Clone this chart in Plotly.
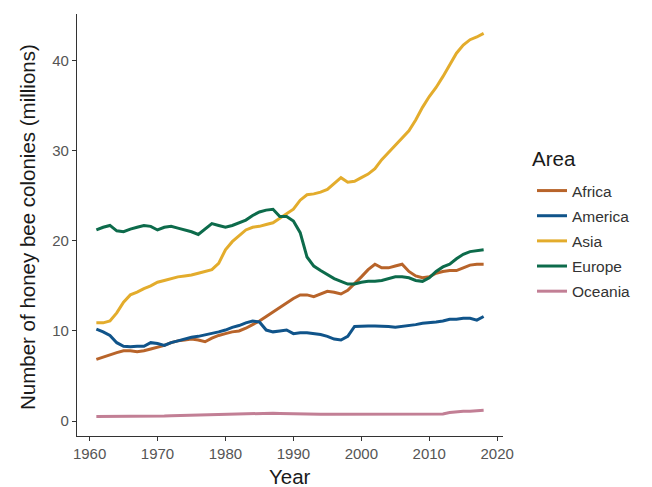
import plotly.graph_objects as go

years = list(range(1961, 2019))

africa = [6.85, 7.1, 7.4, 7.6, 7.8, 7.8, 7.7, 7.8, 8.0, 8.2,
          8.4, 8.7, 8.9, 9.0, 9.1, 9.0, 8.8, 9.2, 9.5, 9.7,
          9.9, 10.0, 10.3, 10.7, 11.1, 11.6, 12.1, 12.6, 13.1, 13.6,
          14.0, 14.0, 13.8, 14.1, 14.4, 14.3, 14.1, 14.5, 15.2, 16.0,
          16.8, 17.4, 17.0, 17.0, 17.2, 17.4, 16.6, 16.1, 15.9, 16.0,
          16.4, 16.6, 16.7, 16.7, 17.0, 17.3, 17.4, 17.4]

america = [10.2, 9.9, 9.5, 8.7, 8.3, 8.25, 8.3, 8.3, 8.7, 8.6,
           8.4, 8.7, 8.9, 9.1, 9.3, 9.4, 9.55, 9.7, 9.9, 10.1,
           10.4, 10.6, 10.9, 11.1, 11.0, 10.1, 9.9, 10.0, 10.1, 9.7,
           9.8, 9.8, 9.7, 9.6, 9.4, 9.1, 9.0, 9.4, 10.5, 10.55,
           10.55, 10.55, 10.55, 10.5, 10.4, 10.5, 10.55, 10.7, 10.85, 10.9,
           11.0, 11.1, 11.3, 11.3, 11.4, 11.4, 11.2, 11.6]

asia = [10.9, 10.9, 11.1, 12.0, 13.2, 14.0, 14.3, 14.7, 15.0, 15.4,
        15.6, 15.8, 16.0, 16.1, 16.2, 16.4, 16.6, 16.8, 17.5, 19.0,
        19.9, 20.6, 21.2, 21.5, 21.6, 21.8, 22.0, 22.5, 23.0, 23.5,
        24.5, 25.1, 25.2, 25.4, 25.7, 26.4, 27.0, 26.5, 26.6, 27.0,
        27.4, 28.0, 29.0, 29.8, 30.6, 31.3, 32.2, 33.4, 34.8, 36.0,
        37.0, 38.2, 39.5, 40.8, 41.7, 42.3, 42.6, 43.0]

europe = [21.2, 21.5, 21.7, 21.1, 21.0, 21.3, 21.5, 21.7, 21.6, 21.2,
          21.5, 21.6, 21.4, 21.2, 21.0, 20.7, 21.3, 21.9, 21.7, 21.5,
          21.7, 22.0, 22.3, 22.8, 23.2, 23.4, 23.5, 22.7, 22.7, 22.2,
          20.9, 18.2, 17.2, 16.7, 16.2, 15.8, 15.5, 15.2, 15.2, 15.4,
          15.5, 15.5, 15.6, 15.8, 16.0, 16.0, 15.9, 15.6, 15.5, 15.9,
          16.6, 17.1, 17.4, 18.0, 18.5, 18.8, 18.9, 19.0]

oceania = [0.5, 0.5, 0.5, 0.52, 0.52, 0.53, 0.53, 0.54, 0.55, 0.55,
           0.57, 0.6, 0.62, 0.65, 0.68, 0.7, 0.72, 0.73, 0.75, 0.75,
           0.78, 0.8, 0.85, 0.88, 0.9, 0.9, 0.88, 0.85, 0.82, 0.8,
           0.78, 0.77, 0.76, 0.75, 0.75, 0.75, 0.75, 0.75, 0.75, 0.75,
           0.75, 0.75, 0.75, 0.75, 0.75, 0.75, 0.75, 0.75, 0.75, 0.75,
           0.76, 0.8, 0.95, 1.05, 1.1, 1.1, 1.15, 1.2]

areas = ["Africa", "America", "Asia", "Europe", "Oceania"]
series = [africa, america, asia, europe, oceania]
colors = ["#B8642A", "#10548A", "#E3AC2C", "#0D6B4B", "#C27F95"]

x_ticks = [1960, 1970, 1980, 1990, 2000, 2010, 2020]
y_ticks = [0, 10, 20, 30, 40]

FONT = "Liberation Sans, Arial, sans-serif"
TITLE_FONT = dict(family=FONT, size=20.5, color="#1a1a1a")

fig = go.Figure()
for name, vals, col in zip(areas, series, colors):
    fig.add_trace(go.Scatter(
        x=years, y=vals, mode="lines", name=name, legendgroup=name,
        line=dict(color=col, width=3),
    ))

axis_common = dict(
    showgrid=False, zeroline=False, showline=True,
    linecolor="#333333", linewidth=1.2,
    ticks="outside", ticklen=4, tickcolor="#333333", tickwidth=1,
    tickfont=dict(family=FONT, size=15, color="#555555"),
    automargin=False,
)

# plot area: x 77..503 px, y 14..436 px
PL, PR, PT, PB = 77, 503, 14, 436

def px(xp):
    return (xp - PL) / (PR - PL)

def py(yp):
    return (PB - yp) / (PB - PT)

fig.update_layout(
    width=652, height=487,
    margin=dict(l=PL, r=652 - PR, t=PT, b=487 - PB),
    paper_bgcolor="white", plot_bgcolor="white",
    font=dict(family=FONT),
    xaxis=dict(range=[1958.15, 2020.85], tickvals=x_ticks, **axis_common),
    yaxis=dict(range=[-1.65, 45.15], tickvals=y_ticks, **axis_common),
    legend=dict(
        font=dict(family=FONT, size=15.5, color="#333333"),
        xref="container", yref="container",
        x=532 / 652, y=1 - 174 / 487, xanchor="left", yanchor="top",
        tracegroupgap=2, bgcolor="rgba(0,0,0,0)",
    ),
    annotations=[
        dict(text="Area", xref="paper", yref="paper",
             x=px(530), y=py(158), xanchor="left", yanchor="middle",
             showarrow=False, font=TITLE_FONT),
        dict(text="Year", xref="paper", yref="paper",
             x=px(290), y=py(476), xanchor="center", yanchor="middle",
             showarrow=False, font=TITLE_FONT),
        dict(text="Number of honey bee colonies (millions)", xref="paper", yref="paper",
             x=px(28), y=py(227), xanchor="center", yanchor="middle",
             textangle=-90, showarrow=False, font=TITLE_FONT),
    ],
    showlegend=True,
)

fig.write_html("out.html")
